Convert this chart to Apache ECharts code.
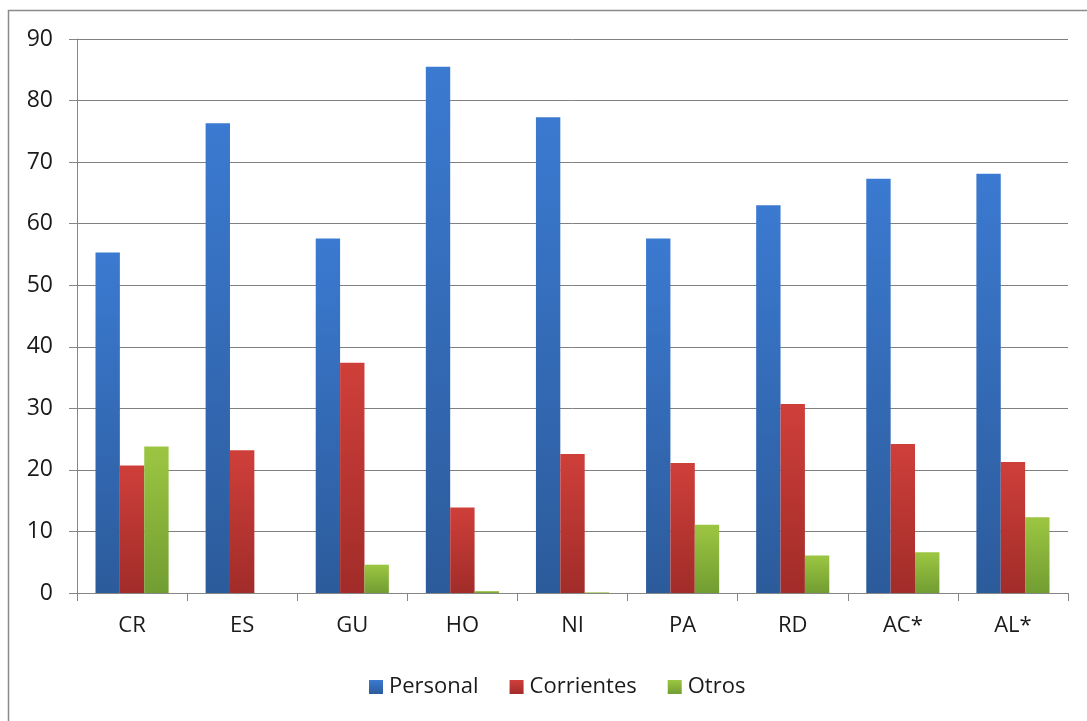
<!DOCTYPE html>
<html>
<head>
<meta charset="utf-8">
<script src="https://cdn.jsdelivr.net/npm/echarts@6/dist/echarts.min.js"></script>
<style>
  html, body { margin: 0; padding: 0; background: #ffffff; }
  #chart { width: 1087px; height: 721px; }
</style>
</head>
<body>
<div id="chart"></div>
<script>
// Categories along the x axis
const categories = ['CR', 'ES', 'GU', 'HO', 'NI', 'PA', 'RD', 'AC*', 'AL*'];

// Series values (percent)
const personal   = [55.3, 76.3, 57.6, 85.5, 77.3, 57.6, 63.0, 67.3, 68.1];
const corrientes = [20.7, 23.2, 37.4, 13.9, 22.6, 21.1, 30.7, 24.2, 21.3];
const otros      = [23.8, 0.0, 4.6, 0.3, 0.1, 11.1, 6.1, 6.6, 12.3];

// Value axis ticks
const yTicks = [0, 10, 20, 30, 40, 50, 60, 70, 80, 90];

const FONT = '"Open Sans", "Liberation Sans", sans-serif';

function grad(top, bottom) {
  return new echarts.graphic.LinearGradient(0, 0, 0, 1, [
    { offset: 0, color: top },
    { offset: 1, color: bottom }
  ]);
}

const chart = echarts.init(document.getElementById('chart'), null, { renderer: 'canvas' });

chart.setOption({
  backgroundColor: '#ffffff',
  animation: false,
  graphic: [
    // frame around the chart (left and top edges)
    {
      type: 'polyline',
      shape: { points: [[8.5, 721], [8.5, 10.5], [1087, 10.5]] },
      style: { stroke: '#8a8a8a', lineWidth: 1.5, fill: null }
    }
  ],
  grid: { left: 77, right: 19, top: 39, bottom: 128, containLabel: false },
  legend: {
    left: 364,
    top: 671,
    itemWidth: 14,
    itemHeight: 14,
    itemGap: 31,
    icon: 'rect',
    textStyle: { fontFamily: FONT, fontSize: 22, color: '#1a1a1a', padding: [0, 0, 0, 1] },
    data: ['Personal', 'Corrientes', 'Otros']
  },
  xAxis: {
    type: 'category',
    data: categories,
    axisLine: { lineStyle: { color: '#868686', width: 1 } },
    axisTick: { show: true, length: 8, lineStyle: { color: '#868686' } },
    axisLabel: { margin: 22, fontFamily: FONT, fontSize: 22, color: '#1a1a1a' }
  },
  yAxis: {
    type: 'value',
    min: yTicks[0],
    max: yTicks[yTicks.length - 1],
    interval: yTicks[1] - yTicks[0],
    axisLine: { show: true, lineStyle: { color: '#868686', width: 1 } },
    axisTick: { show: true, length: 8, lineStyle: { color: '#868686' } },
    splitLine: { show: true, lineStyle: { color: '#808080', width: 1 } },
    axisLabel: { margin: 24, fontFamily: FONT, fontSize: 23, color: '#1a1a1a' }
  },
  series: [
    {
      name: 'Personal',
      type: 'bar',
      data: personal,
      barGap: '0%',
      barCategoryGap: '33.6%',
      itemStyle: { color: grad('#3b7ad1', '#2c5b9b') }
    },
    {
      name: 'Corrientes',
      type: 'bar',
      data: corrientes,
      itemStyle: { color: grad('#cf3f3a', '#a12c29') }
    },
    {
      name: 'Otros',
      type: 'bar',
      data: otros,
      itemStyle: { color: grad('#9cc641', '#729d32') }
    }
  ],
  color: ['#3268b8', '#bb3632', '#8ab43b']
});
</script>
</body>
</html>
